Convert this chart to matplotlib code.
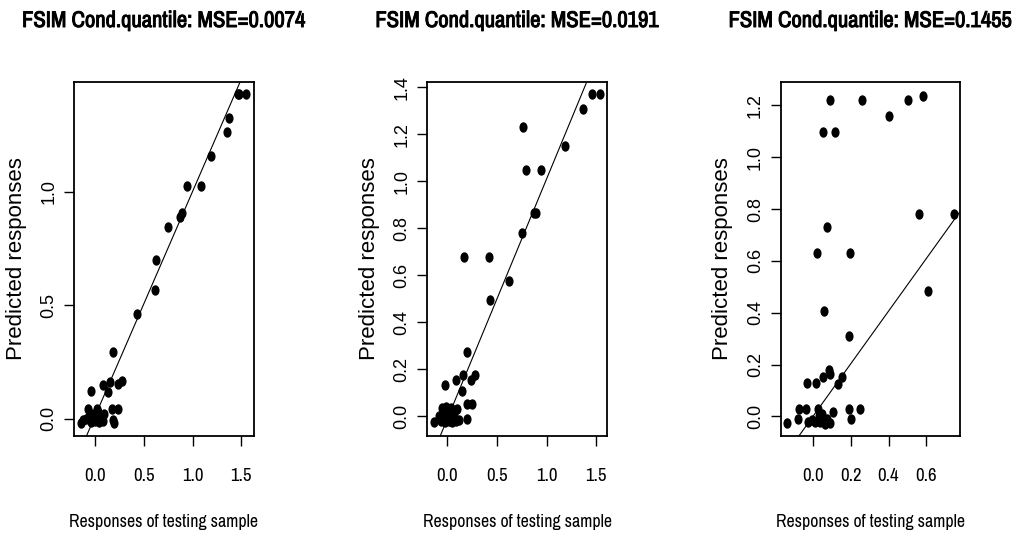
import matplotlib
matplotlib.use("Agg")
import matplotlib.pyplot as plt
import matplotlib.patheffects as pe
import numpy as np
from matplotlib.path import Path

# Panel titles
titles = ["FSIM Cond.quantile: MSE=0.0074",
          "FSIM Cond.quantile: MSE=0.0191",
          "FSIM Cond.quantile: MSE=0.1455"]

# Panel 1 data (responses of testing sample, predicted responses)
x1 = [-0.147, -0.12, -0.09, -0.068, -0.06, -0.04, -0.02, 0.0, 0.017, 0.02, 0.04, 0.06,
      0.08, 0.09, 0.03, -0.01, 0.17, 0.187, 0.19, 0.238, -0.044, 0.078, 0.136, 0.153,
      0.238, 0.273, 0.187, 0.426, 0.620, 0.630, 0.750, 0.876, 0.893, 0.944, 1.084,
      1.193, 1.350, 1.373, 1.462, 1.48, 1.551]
y1 = [-0.019, -0.005, 0.0, 0.044, 0.01, -0.015, 0.02, -0.01, 0.044, 0.0, -0.015, 0.01,
      -0.01, 0.02, 0.03, 0.005, 0.044, -0.008, -0.02, 0.044, 0.120, 0.147, 0.117, 0.162,
      0.154, 0.165, 0.294, 0.460, 0.566, 0.699, 0.846, 0.890, 0.907, 1.027, 1.027,
      1.158, 1.262, 1.324, 1.431, 1.431, 1.431]

# Panel 2 data
x2 = [-0.131, -0.08, -0.06, -0.057, -0.04, -0.024, -0.02, 0.0, 0.0, 0.02, 0.03, 0.05,
      0.07, 0.09, 0.1, -0.01, 0.04, 0.12, 0.087, 0.145, 0.155, 0.195, 0.195, 0.195,
      0.252, 0.239, 0.279, 0.168, 0.420, 0.431, 0.622, 0.750, 0.767, 0.794, 0.942,
      0.878, 0.891, 1.191, 1.372, 1.463, 1.534]
y2 = [-0.025, 0.0, -0.02, 0.035, 0.01, 0.135, -0.025, 0.02, -0.005, -0.02, 0.0, -0.025,
      0.01, -0.02, 0.03, 0.04, 0.035, -0.015, 0.153, 0.110, 0.177, 0.276, -0.011, 0.052,
      0.052, 0.153, 0.177, 0.680, 0.680, 0.496, 0.578, 0.779, 1.232, 1.048, 1.048,
      0.864, 0.864, 1.150, 1.307, 1.370, 1.370]

# Panel 3 data
x3 = [-0.138, -0.080, -0.075, -0.039, -0.032, 0.014, 0.053, 0.085, 0.089, 0.133, 0.154,
      0.018, 0.057, 0.071, 0.050, 0.115, 0.089, 0.261, 0.401, 0.502, 0.584, 0.561,
      0.746, 0.612, 0.195, 0.190, 0.190, 0.199, 0.249, -0.030, -0.009, 0.009, 0.027,
      0.036, 0.045, 0.054, 0.071, 0.089, 0.103, 0.032, 0.062]
y3 = [-0.026, -0.009, 0.030, 0.030, 0.128, 0.128, 0.151, 0.177, 0.164, 0.126, 0.151,
      0.629, 0.408, 0.729, 1.098, 1.098, 1.221, 1.221, 1.159, 1.221, 1.236, 0.780,
      0.780, 0.485, 0.629, 0.309, 0.030, -0.009, 0.030, -0.021, -0.015, -0.021, 0.030,
      -0.021, 0.011, -0.015, -0.009, -0.026, 0.018, 0.000, -0.030]

xs = [x1, x2, x3]
ys = [y1, y2, y3]

# fitted lines (intercept, slope)
lines = [(0.010, 0.99), (-0.010, 1.02), (0.002, 1.01)]

xlims = [(-0.215, 1.626), (-0.202, 1.608), (-0.174, 0.781)]
ylims = [(-0.078, 1.484), (-0.085, 1.424), (-0.077, 1.291)]
xticks = [[0.0, 0.5, 1.0, 1.5], [0.0, 0.5, 1.0, 1.5], [0.0, 0.2, 0.4, 0.6]]
yticks = [[0.0, 0.5, 1.0], [0.0, 0.2, 0.4, 0.6, 0.8, 1.0, 1.2, 1.4],
          [0.0, 0.2, 0.4, 0.6, 0.8, 1.0, 1.2]]

narrow = ["Archivo Narrow", "DejaVu Sans"]
regular = ["Liberation Sans", "DejaVu Sans"]

# slightly squashed dot, like the reference
circ = Path.unit_circle()
dot = Path(circ.vertices * np.array([0.78, 1.0]), circ.codes)

fig = plt.figure(figsize=(10.17, 5.38), dpi=100)
lefts = [0.0728, 0.4202, 0.7676]

for i in range(3):
    ax = fig.add_axes([lefts[i], 0.189, 0.1765, 0.659])
    ax.plot(xs[i], ys[i], linestyle="none", marker=dot, markersize=7.5,
            color="black", markeredgewidth=0)
    a, b = lines[i]
    ax.axline((0, a), slope=b, color="black", linewidth=0.8)
    ax.set_xlim(xlims[i])
    ax.set_ylim(ylims[i])
    ax.set_xticks(xticks[i])
    ax.set_yticks(yticks[i])
    ax.set_xticklabels([f"{v:.1f}" for v in xticks[i]], family=narrow, fontsize=13.5)
    ax.set_yticklabels([f"{v:.1f}" for v in yticks[i]], family=regular, fontsize=13,
                       rotation=90, va="center")
    ax.tick_params(direction="out", length=7, width=1, color="black")
    ax.tick_params(axis="x", pad=16)
    ax.tick_params(axis="y", pad=5)
    for sp in ax.spines.values():
        sp.set_linewidth(1.3)
    ax.set_xlabel("Responses of testing sample", family=narrow, fontsize=12.8)
    ax.xaxis.set_label_coords(0.5, -0.243)
    ax.xaxis.label.set_va("center")
    ax.set_ylabel("Predicted responses", family=regular, fontsize=16)
    ax.yaxis.set_label_coords(-0.322, 0.5)
    ax.yaxis.label.set_va("center")
    fig.text(lefts[i] + 0.1765 / 2, 1 - 21 / 538, titles[i], family=narrow,
             fontsize=16.3, ha="center", va="center",
             path_effects=[pe.withStroke(linewidth=0.7, foreground="black")])

fig.savefig("out.png", dpi=100)
